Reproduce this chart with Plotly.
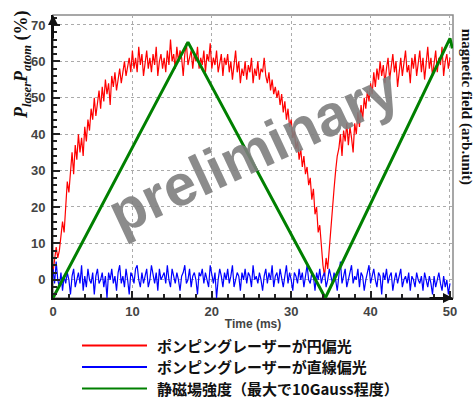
import numpy as np
import plotly.graph_objects as go

# Sampling clock of the recorded traces (ms)
sample_step_ms = 0.2

# Pumping with circularly polarised light (%)
red_pct = [
    2, 5, 9, 6, 8, 12, 16, 13, 20, 27,
    24, 31, 35, 29, 37, 33, 40, 35, 39, 34,
    42, 38, 44, 41, 47, 44, 50, 45, 49, 52,
    47, 53, 49, 55, 51, 54, 48, 56, 53, 57,
    52, 55, 58, 54, 57, 60, 56, 59, 61, 57,
    63, 58, 61, 57, 64, 59, 62, 56, 60, 63,
    58, 61, 57, 62, 59, 64, 56, 60, 62, 58,
    61, 57, 63, 59, 66, 60, 62, 58, 64, 60,
    63, 61, 56, 62, 65, 59, 61, 63, 58, 62,
    60, 64, 58, 61, 59, 63, 57, 62, 60, 65,
    58, 61, 59, 63, 57, 60, 62, 56, 61, 59,
    62, 57, 60, 55, 59, 63, 57, 60, 54, 58,
    56, 60, 55, 59, 57, 61, 54, 58, 56, 60,
    55, 58, 57, 61, 56, 54, 57, 52, 55, 51,
    53, 50, 52, 48, 51, 46, 49, 44, 47, 42,
    44, 39, 41, 36, 38, 33, 36, 31, 34, 29,
    31, 26, 28, 22, 25, 18, 20, 13, 15, 8,
    4, 1, 6, 3, 9, 14, 20, 25, 30, 34,
    36, 40, 34, 41, 38, 43, 37, 42, 39, 35,
    43, 40, 46, 42, 48, 44, 50, 47, 52, 49,
    54, 51, 57, 53, 58, 55, 60, 56, 59, 54,
    58, 61, 55, 59, 62, 57, 60, 53, 58, 61,
    56, 60, 63, 57, 59, 54, 61, 58, 62, 56,
    59, 63, 57, 61, 55, 60, 64, 58, 61, 56,
    60, 63, 57, 61, 59, 64, 56, 60, 62, 58, 61,
]

# Pumping with linearly polarised light (%)
blue_pct = [
    3, -1, 5, 0, -2, 2, -3, 1, -1, 2,
    0, -4, 1, 3, -2, 0, 2, -1, 4, -3,
    1, -2, 3, 0, -1, 2, -4, 1, 3, -1,
    0, 2, -2, 1, -5, 2, 0, 3, -1, 1,
    -3, 2, 4, -1, 1, -2, 3, 0, -4, 2,
    1, -1, 3, 4, 0, -2, 2, -1, 1, 3,
    -2, 0, 4, 1, -1, 2, -3, 3, 0, 1,
    2, -1, 4, 0, -2, 3, 1, -1, 2, 0,
    -3, 1, 2, 4, -1, 0, 3, -2, 1, 2,
    0, -4, 2, 1, 3, -1, 2, 0, -2, 4,
    1, -1, 2, -5, 0, 3, 1, -2, 2, 0,
    3, -1, 1, 4, -2, 0, 2, 1, -3, 2,
    0, 3, -1, 2, 1, -2, 4, 0, 1, -1,
    2, 0, -3, 1, 3, -1, 2, 0, 4, -2,
    1, 2, -1, 3, 0, -2, 1, 4, -1, 2,
    0, -3, 2, 1, -1, 3, 0, 2, -2, 1,
    4, 0, -1, 2, 1, -3, 2, 0, 3, -1,
    1, 2, -2, 0, 3, 1, -1, 2, 0, -3,
    2, 5, -1, 1, 3, -2, 0, 2, 4, -1,
    1, 0, 3, -2, 2, 1, -3, 0, 2, 4,
    -1, 1, 3, 0, -2, 2, 1, -4, 2, 0,
    3, -1, 1, 2, -3, 0, 2, -1, 1, 3,
    -2, 0, 1, -1, 2, -3, 1, 0, -2, 2,
    0, -1, 1, -3, 2, 0, -2, 1, -1, -4,
    1, -2, 0, 2, -1, -3, 1, -2, 0, -4, -1,
]

# Static magnetic field sweep (arb. unit)
field_t = [0, 17.0, 34.3, 50.0, 50.3]
field_arb = [0, 1.0, 0, 1.015, 0.975]

series_names = [
    "ポンピングレーザーが円偏光",
    "ポンピングレーザーが直線偏光",
    "静磁場強度（最大で10Gauss程度）",
]
series_colors = ["#ff0000", "#0000ff", "#008000"]

x_ticks = [0, 10, 20, 30, 40, 50]
y_ticks = [0, 10, 20, 30, 40, 50, 60, 70]

time_ms = np.round(np.arange(len(red_pct)) * sample_step_ms, 2)

fig = go.Figure()
fig.add_trace(go.Scatter(x=time_ms, y=red_pct, mode="lines", name=series_names[0],
                         line=dict(color=series_colors[0], width=1.2), showlegend=False))
fig.add_trace(go.Scatter(x=time_ms, y=blue_pct, mode="lines", name=series_names[1],
                         line=dict(color=series_colors[1], width=1.2), showlegend=False))
fig.add_trace(go.Scatter(x=field_t, y=field_arb, mode="lines", name=series_names[2], yaxis="y2",
                         line=dict(color=series_colors[2], width=3), showlegend=False))

tick_font = dict(family="Liberation Sans, Arial", size=13, color="#444444", weight="bold")

fig.update_layout(
    width=476, height=400,
    margin=dict(l=53, r=23, t=15, b=102),
    paper_bgcolor="white", plot_bgcolor="white",
    xaxis=dict(range=[0, 50.38], tickvals=x_ticks, ticks="inside", ticklen=7, tickwidth=1.5,
               tickcolor="#222", showline=True, linecolor="#111", linewidth=2,
               showgrid=True, gridcolor="#ababab", griddash="dot", gridwidth=1,
               minor=dict(dtick=2, ticks="inside", ticklen=4, tickcolor="#222", showgrid=False),
               tickfont=tick_font, zeroline=False,
               title=dict(text="<b>Time (ms)</b>", standoff=2,
                          font=dict(family="Liberation Sans, Arial", size=12, color="#444444"))),
    yaxis=dict(range=[-5, 72.74], tickvals=y_ticks, ticks="inside", ticklen=7, tickwidth=1.5,
               tickcolor="#222", showline=True, linecolor="#111", linewidth=2,
               showgrid=True, gridcolor="#ababab", griddash="dot", gridwidth=1,
               minor=dict(dtick=2, ticks="inside", ticklen=4, tickcolor="#222", showgrid=False),
               tickfont=tick_font, zeroline=False, ticklabelstandoff=3),
    yaxis2=dict(range=[0, 1.106], overlaying="y", side="right", showticklabels=False,
                showgrid=False, zeroline=False, ticks=""),
)

# Gray frame on the top and right sides
fig.add_shape(type="rect", xref="paper", yref="paper", x0=0, y0=0, x1=1, y1=1,
              line=dict(color="#8a8a8a", width=1.5), layer="below")

# Arrow heads on the axes
fig.add_annotation(xref="paper", yref="paper", x=0, y=1.0, ax=0, ay=25, showarrow=True,
                   arrowhead=2, arrowsize=1, arrowwidth=2, arrowcolor="#111", text="")
fig.add_annotation(xref="paper", yref="paper", x=1.0, y=0, ax=-25, ay=0, showarrow=True,
                   arrowhead=2, arrowsize=1, arrowwidth=2, arrowcolor="#111", text="")

# Axis titles
fig.add_annotation(xref="paper", yref="paper", x=-0.0775, y=0.823, showarrow=False, textangle=-90,
                   xanchor="center", yanchor="middle",
                   text="<b><i>P</i></b><sub><b><i>laser</i></b></sub><b><i>P</i></b>"
                        "<sub><b><i>atom</i></b></sub><b> (%)</b>",
                   font=dict(family="Liberation Serif, Times New Roman", size=18, color="#111"))
fig.add_annotation(xref="paper", yref="paper", x=1.033, y=0.675, showarrow=False, textangle=90,
                   xanchor="center", yanchor="middle",
                   text="<b>magnetic field (arb.unit)</b>",
                   font=dict(family="Liberation Serif, Times New Roman", size=15, color="#111"))

# Watermark
fig.add_annotation(xref="paper", yref="paper", x=0.50, y=0.52, showarrow=False, textangle=-25,
                   xanchor="center", yanchor="middle",
                   text="<b>preliminary</b>", opacity=0.9,
                   font=dict(family="Liberation Sans, Arial", size=58, color="#7f7f7f"))

# Legend below the plot
legend_rows_y = [-0.168, -0.2438, -0.3198]
for name, color, ly in zip(series_names, series_colors, legend_rows_y):
    fig.add_shape(type="line", xref="paper", yref="paper", x0=0.0725, x1=0.235, y0=ly, y1=ly,
                  line=dict(color=color, width=2))
    fig.add_annotation(xref="paper", yref="paper", x=0.255, y=ly, xanchor="left", yanchor="middle",
                       showarrow=False, text=f"<b>{name}</b>",
                       font=dict(family="Noto Sans CJK JP", size=15, color="#111"))

fig.write_html("out.html")
